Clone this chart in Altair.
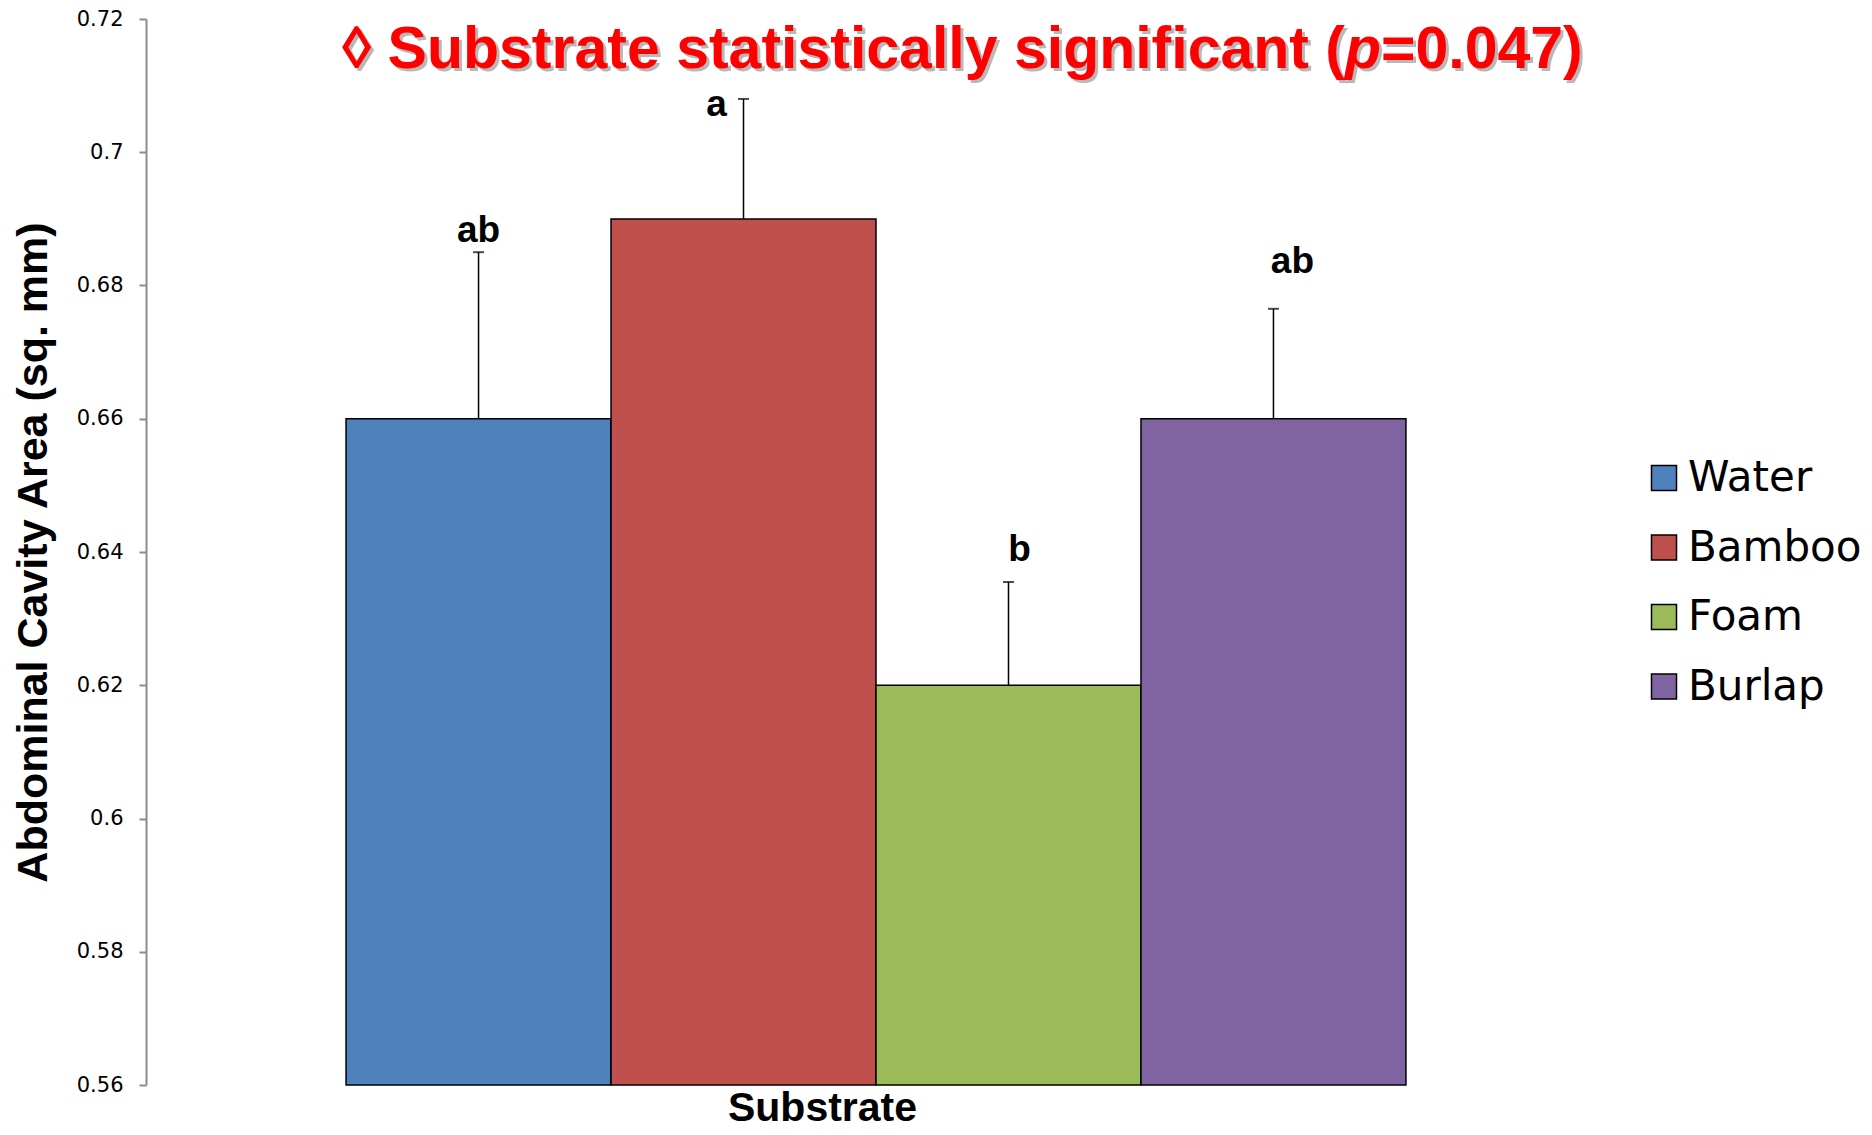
import altair as alt
import pandas as pd

SUBSTRATES = ["Water", "Bamboo", "Foam", "Burlap"]
MEANS = [0.66, 0.69, 0.62, 0.66]
UPPER = [0.685, 0.708, 0.6355, 0.6765]
LETTERS = ["ab", "a", "b", "ab"]
LETTER_POS = [0.6882, 0.7071, 0.6403, 0.6836]
COLORS = ["#4F81BD", "#C0504D", "#9BBB59", "#8064A2"]
Y_TICKS = [0.56, 0.58, 0.60, 0.62, 0.64, 0.66, 0.68, 0.70, 0.72]
Y_MIN, Y_MAX = 0.56, 0.72
TITLE_LEFT = "\u25ca Substrate statistically significant ("
TITLE_P = "p"
TITLE_RIGHT = "=0.047)"
Y_TITLE = "Abdominal Cavity Area (sq. mm)"
X_TITLE = "Substrate"

df = pd.DataFrame({
    "Substrate": SUBSTRATES,
    "mean": MEANS,
    "upper": UPPER,
    "letter": LETTERS,
    "letter_pos": LETTER_POS,
})

W, H = 1460, 1066
BOLD = "Liberation Sans"
# horizontal nudges of the significance letters (style only)
LETTER_NUDGE = {"Water": 0, "Bamboo": -27, "Foam": 11, "Burlap": 19}

x_enc = alt.X(
    "Substrate:N",
    sort=SUBSTRATES,
    scale=alt.Scale(paddingInner=0, paddingOuter=0.755),
    axis=alt.Axis(labels=False, ticks=False, domain=False, title=X_TITLE,
                  titleFont=BOLD, titleFontSize=41, titleFontWeight="bold",
                  titleColor="black", titlePadding=3, titleX=676),
)
y_scale = alt.Scale(domain=[Y_MIN, Y_MAX], zero=False, nice=False)

base = alt.Chart(df)

bars = base.mark_bar(stroke="black", strokeWidth=1.5, opacity=1).encode(
    x=x_enc,
    y=alt.Y("mean:Q", scale=y_scale,
            axis=alt.Axis(values=Y_TICKS, format="~g", grid=False,
                          domainColor="#8c8c8c", domainWidth=2,
                          tickColor="#8c8c8c", tickWidth=2, tickSize=7,
                          labelFont="DejaVu Sans", labelFontSize=21,
                          labelColor="black", labelPadding=16,
                          title=Y_TITLE, titleFont=BOLD, titleFontSize=43,
                          titleFontWeight="bold", titleColor="black",
                          titlePadding=21)),
    y2=alt.datum(Y_MIN),
    color=alt.Color("Substrate:N", sort=SUBSTRATES,
                    scale=alt.Scale(domain=SUBSTRATES, range=COLORS),
                    legend=alt.Legend(title=None, orient="none",
                                      legendX=1497, legendY=438,
                                      symbolType="square", symbolSize=625,
                                      symbolStrokeColor="black",
                                      symbolStrokeWidth=1.5, symbolOpacity=1,
                                      labelFont="DejaVu Sans", labelFontSize=42,
                                      labelColor="black", labelOffset=3,
                                      labelLimit=400,
                                      rowPadding=27.5, padding=0)),
)

err = base.mark_rule(color="black", strokeWidth=1.5).encode(
    x=alt.X("Substrate:N", sort=SUBSTRATES),
    y="mean:Q",
    y2="upper:Q",
)

caps = base.mark_tick(color="black", size=11, thickness=2).encode(
    x=alt.X("Substrate:N", sort=SUBSTRATES),
    y="upper:Q",
)

letter_layers = [
    base.transform_filter(alt.datum.Substrate == s).mark_text(
        font=BOLD, fontSize=37, fontWeight="bold", color="black",
        baseline="middle", dx=LETTER_NUDGE[s]).encode(
        x=alt.X("Substrate:N", sort=SUBSTRATES),
        y="letter_pos:Q",
        text="letter:N",
    )
    for s in SUBSTRATES
]

def title_part(txt, xpos, align, italic=False, shadow=False):
    d = pd.DataFrame({"t": [txt]})
    kw = dict(font=BOLD, fontSize=59, fontWeight="bold", align=align,
              baseline="alphabetic")
    if italic:
        kw["fontStyle"] = "italic"
    if shadow:
        kw.update(color="#7f7f7f", opacity=0.55, dx=3, dy=3)
    else:
        kw.update(color="#ff0000")
    return alt.Chart(d).mark_text(**kw).encode(
        x=alt.value(xpos), y=alt.value(49), text="t:N")

title_layers = []
for sh in (True, False):
    title_layers += [
        title_part(TITLE_LEFT, 1199, "right", shadow=sh),
        title_part(TITLE_P, 1199, "left", italic=True, shadow=sh),
        title_part(TITLE_RIGHT, 1235, "left", shadow=sh),
    ]

chart = alt.layer(bars, err, caps, *letter_layers, *title_layers).properties(
    width=W, height=H,
    background="white",
    autosize=alt.AutoSizeParams(type="none"),
    padding={"left": 138, "top": 11, "right": 258, "bottom": 42},
).configure_view(stroke=None)

chart.save("out.html", embed_options={"renderer": "svg", "actions": False})
